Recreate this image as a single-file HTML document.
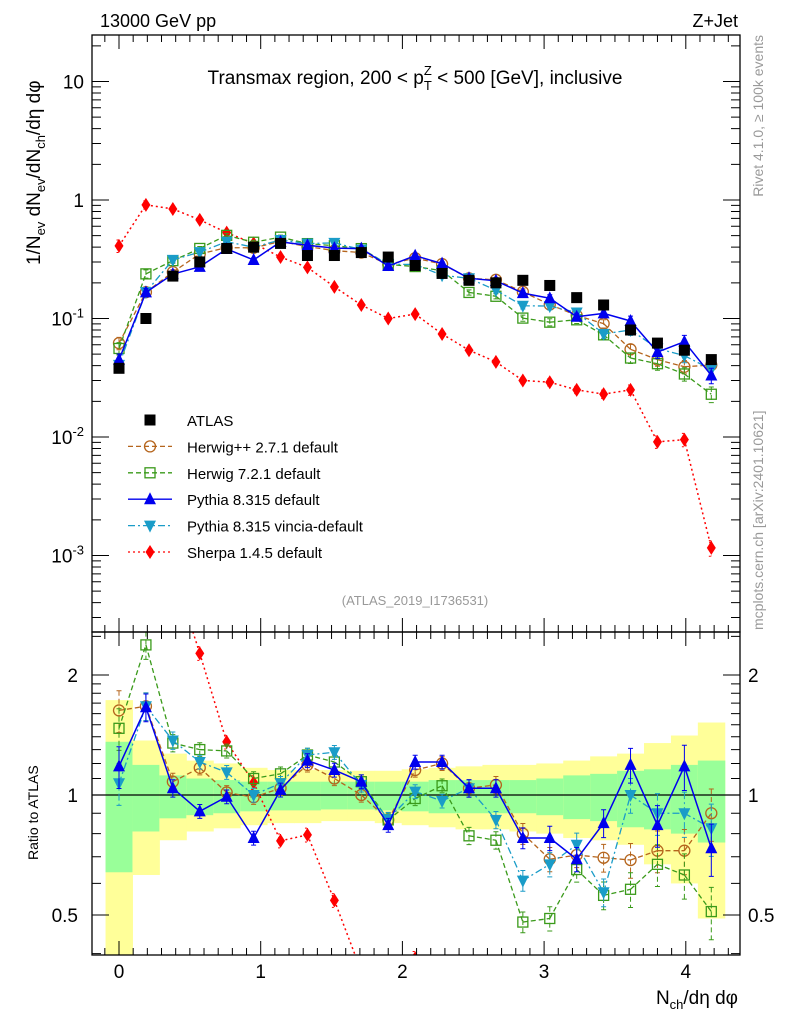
<!DOCTYPE html>
<html><head><meta charset="utf-8"><style>
html,body{margin:0;padding:0;background:#fff;width:786px;height:1024px;overflow:hidden;}
svg{display:block;font-family:"Liberation Sans",sans-serif;}
</style></head><body>
<svg id="chart" width="786" height="1024" viewBox="0 0 786 1024" xmlns="http://www.w3.org/2000/svg">
<defs>
<clipPath id="clipMain"><rect x="92" y="35" width="648" height="597"/></clipPath>
<clipPath id="clipRatio"><rect x="92" y="632" width="648" height="323"/></clipPath>
</defs>
<text x="100" y="27" font-size="18">13000 GeV pp</text>
<text x="738" y="27" font-size="18" text-anchor="end">Z+Jet</text>
<g id="ratioBands" clip-path="url(#clipRatio)"></g>
<g id="mainLayer" clip-path="url(#clipMain)"></g>
<g id="ratioLayer" clip-path="url(#clipRatio)"></g>
<g id="axes"></g>
<text x="415" y="84" font-size="19" text-anchor="middle">Transmax region, 200 &lt; p<tspan font-size="13" dy="6">T</tspan><tspan font-size="13" dx="-8" dy="-15">Z</tspan><tspan dy="9"> &lt; 500 [GeV], inclusive</tspan></text>
<text x="415" y="605" font-size="13" fill="#999" text-anchor="middle">(ATLAS_2019_I1736531)</text>
<text transform="translate(763,35) rotate(-90)" font-size="14" fill="#999" text-anchor="end">Rivet 4.1.0, ≥ 100k events</text>
<text transform="translate(763,630) rotate(-90)" font-size="14" fill="#999">mcplots.cern.ch [arXiv:2401.10621]</text>
<text transform="translate(40,265) rotate(-90)" font-size="19">1/N<tspan font-size="13" dy="5">ev</tspan><tspan dy="-5"> dN</tspan><tspan font-size="13" dy="5">ev</tspan><tspan dy="-5">/dN</tspan><tspan font-size="13" dy="5">ch</tspan><tspan dy="-5">/dη dφ</tspan></text>
<text transform="translate(38,860) rotate(-90)" font-size="14">Ratio to ATLAS</text>
<text x="738" y="1004" font-size="19" text-anchor="end">N<tspan font-size="13" dy="5">ch</tspan><tspan dy="-5">/dη dφ</tspan></text>
<g id="legend"></g>
</svg>
<script>
const xs = [0,0.19,0.38,0.57,0.76,0.95,1.14,1.33,1.52,1.71,1.90,2.09,2.28,2.47,2.66,2.85,3.04,3.23,3.42,3.61,3.80,3.99,4.18];
const atlas = [0.038,0.10,0.228,0.30,0.39,0.40,0.43,0.34,0.34,0.36,0.33,0.28,0.24,0.21,0.20,0.21,0.19,0.15,0.13,0.08,0.062,0.054,0.045];
const herwigppRatio = [1.63,1.67,1.08,1.17,1.015,0.987,1.04,1.19,1.10,1.0,0.866,1.155,1.20,1.04,1.06,0.80,0.69,0.707,0.696,0.687,0.725,0.725,0.90];
const herwig7Ratio = [1.47,2.38,1.35,1.30,1.29,1.10,1.13,1.26,1.21,1.08,0.866,0.98,1.055,0.79,0.77,0.48,0.49,0.65,0.56,0.58,0.67,0.63,0.51];
const pythiaRatio = [1.18,1.66,1.04,0.91,0.99,0.78,1.03,1.22,1.155,1.08,0.84,1.21,1.21,1.04,1.04,0.78,0.78,0.69,0.85,1.19,0.84,1.18,0.735];
const vinciaRatio = [1.07,1.67,1.37,1.21,1.14,1.0,1.07,1.26,1.28,1.06,0.87,1.02,0.966,1.04,0.866,0.61,0.67,0.75,0.57,1.0,0.90,0.90,0.825];
const sherpa = [0.41,0.91,0.84,0.68,0.53,0.43,0.33,0.27,0.185,0.13,0.10,0.109,0.074,0.054,0.043,0.030,0.029,0.025,0.023,0.025,0.0091,0.0095,0.00116];
const relErr = [0.12,0.08,0.05,0.04,0.04,0.04,0.04,0.04,0.04,0.04,0.04,0.04,0.04,0.05,0.05,0.06,0.07,0.07,0.08,0.10,0.12,0.13,0.15];
const yellowHi = [1.73,1.37,1.27,1.22,1.20,1.17,1.155,1.155,1.155,1.15,1.15,1.16,1.17,1.18,1.19,1.19,1.20,1.22,1.25,1.27,1.35,1.41,1.52];
const yellowLo = [0.30,0.63,0.77,0.81,0.825,0.84,0.85,0.85,0.86,0.86,0.85,0.84,0.83,0.82,0.82,0.81,0.80,0.78,0.77,0.75,0.67,0.60,0.49];
const greenHi = [1.36,1.19,1.12,1.10,1.09,1.08,1.08,1.08,1.08,1.08,1.08,1.08,1.09,1.09,1.09,1.09,1.10,1.12,1.13,1.15,1.16,1.19,1.22];
const greenLo = [0.64,0.81,0.874,0.89,0.90,0.91,0.915,0.915,0.92,0.92,0.915,0.91,0.90,0.90,0.90,0.90,0.89,0.87,0.86,0.83,0.82,0.80,0.76];
const xTicks = [0,1,2,3,4];
const mainTickVals = [10,1,0.1,0.01,0.001];
const mainTickLabels = ["10","1","10^-1","10^-2","10^-3"];
const ratioTickVals = [2,1,0.5];
const ratioTickLabels = ["2","1","0.5"];

const NS="http://www.w3.org/2000/svg";
const L=92,R=740,MT=35,MB=632,RT=632,RB=955;
const X=v=>119+v*141.7;
const YMraw=v=>200-Math.log10(v)*118.5;
const YRraw=v=>795-Math.log10(v)*398.6;
const clamp=(y,a,b)=>Math.max(a,Math.min(b,y));
const YM=v=>clamp(YMraw(v),MT-5,MB+5);
const YR=v=>clamp(YRraw(v),RT-5,RB+5);
function mk(tag,attrs,parent){const e=document.createElementNS(NS,tag);for(const k in attrs)e.setAttribute(k,attrs[k]);parent.appendChild(e);return e;}
// build path with segments clipped to y-range [t,b]
function clippedPath(pts,t,b){
  let d='';
  for(let i=0;i<pts.length-1;i++){
    let [x0,y0]=pts[i],[x1,y1]=pts[i+1];
    if((y0<t&&y1<t)||(y0>b&&y1>b))continue;
    const cut=(xa,ya,xb,yb,yl)=>[xa+(xb-xa)*(yl-ya)/(yb-ya),yl];
    if(y0<t)[x0,y0]=cut(x0,y0,x1,y1,t); else if(y0>b)[x0,y0]=cut(x0,y0,x1,y1,b);
    if(y1<t)[x1,y1]=cut(pts[i][0],pts[i][1],x1,y1,t); else if(y1>b)[x1,y1]=cut(pts[i][0],pts[i][1],x1,y1,b);
    d+=`M${x0.toFixed(2)},${y0.toFixed(2)}L${x1.toFixed(2)},${y1.toFixed(2)}`;
  }
  return d||'M0,0';
}
const mainG=document.getElementById('mainLayer'),ratioG=document.getElementById('ratioLayer'),bandG=document.getElementById('ratioBands'),axG=document.getElementById('axes'),legG=document.getElementById('legend');

xs.forEach((x,i)=>{
  const w=141.7*0.19;
  const yt=clamp(YRraw(yellowHi[i]),RT,RB),ybt=clamp(YRraw(yellowLo[i]),RT,RB);
  const yb=mk('rect',{x:X(x)-w/2,y:yt,width:w+0.5,height:ybt-yt,fill:'#ffff99'},bandG);
  
  
  const gt=clamp(YRraw(greenHi[i]),RT,RB),gbt=clamp(YRraw(greenLo[i]),RT,RB);
  const gb=mk('rect',{x:X(x)-w/2,y:gt,width:w+0.5,height:gbt-gt,fill:'#99ff99'},bandG);
  
  
});
const one=mk('line',{x1:L,x2:R,y1:YR(1),y2:YR(1),stroke:'#000','stroke-width':1.2},bandG);



function marker(type,cx,cy,col,g){
  let e;
  if(type==='sq') e=mk('rect',{x:cx-5.5,y:cy-5.5,width:11,height:11,fill:'#000'},g);
  else if(type==='circ') e=mk('circle',{cx:cx,cy:cy,r:5.5,fill:'none',stroke:col,'stroke-width':1.3},g);
  else if(type==='osq') e=mk('rect',{x:cx-5,y:cy-5,width:10,height:10,fill:'none',stroke:col,'stroke-width':1.3},g);
  else if(type==='up') e=mk('polygon',{points:`${cx},${cy-7} ${cx-6},${cy+5} ${cx+6},${cy+5}`,fill:col},g);
  else if(type==='dn') e=mk('polygon',{points:`${cx},${cy+7} ${cx-6},${cy-5} ${cx+6},${cy-5}`,fill:col},g);
  else if(type==='dia') e=mk('polygon',{points:`${cx},${cy-7} ${cx-4.5},${cy} ${cx},${cy+7} ${cx+4.5},${cy}`,fill:col},g);
  return e;
}
function series(name,vals,ratios,col,dash,type,width){
  const gm=mk('g',{},mainG);
  
  
  const gr=mk('g',{},ratioG);
  
  
  const pm=xs.map((x,i)=>[X(x),YMraw(vals[i])]);
  const pr=xs.map((x,i)=>[X(x),YRraw(ratios[i])]);
  const l1=mk('path',{d:clippedPath(pm,MT-5,MB+5),fill:'none',stroke:col,'stroke-width':width,'stroke-dasharray':dash||'none'},gm);
  
  
  const l2=mk('path',{d:clippedPath(pr,RT-5,RB+5),fill:'none',stroke:col,'stroke-width':width,'stroke-dasharray':dash||'none'},gr);
  
  
  xs.forEach((x,i)=>{
    const e=relErr[i];
    const cx=X(x);
    [[gm,YM,YMraw,vals[i],MT,MB],[gr,YR,YRraw,ratios[i],RT,RB]].forEach(([g,Y,Yraw,v,t,b])=>{
      const y0=Y(v*(1+e)),y1=Y(Math.max(v*(1-e),1e-6));
      if(y1-y0>0.5){
        const eb=mk('path',{d:`M${cx},${y0}V${y1}M${cx-2.5},${y0}h5M${cx-2.5},${y1}h5`,stroke:col,'stroke-width':1,fill:'none','stroke-dasharray':dash||'none'},g);
        
        
      }
      const yc=Yraw(v);
      if(yc>t-4&&yc<b+4){
        const m=marker(type,cx,yc,col,g);
        
        
      }
    });
  });
}
const mul=r=>r.map((v,i)=>v*atlas[i]);
series('sherpa',sherpa,sherpa.map((v,i)=>v/atlas[i]),'#ff0000','2,3','dia',1.5);
series('herwigpp',mul(herwigppRatio),herwigppRatio,'#b5651d','5,3','circ',1.3);
series('herwig7',mul(herwig7Ratio),herwig7Ratio,'#3a9a1a','5,3','osq',1.3);
series('vincia',mul(vinciaRatio),vinciaRatio,'#1a9cc8','7,3,2,3','dn',1.3);
series('pythia',mul(pythiaRatio),pythiaRatio,'#0000ee',null,'up',1.5);
xs.forEach((x,i)=>{
  const m=marker('sq',X(x),YMraw(atlas[i]),'#000',mainG);
  
  
});

[[MT,MB],[RT,RB]].forEach(([t,b],k)=>{
  const f=mk('rect',{x:L,y:t,width:R-L,height:b-t,fill:'none',stroke:'#000','stroke-width':1.3},axG);
  
  
  for(let v=-0.1;v<=4.35;v+=0.1){
    const vv=Math.round(v*10)/10;const major=Math.abs(vv-Math.round(vv))<1e-6;const len=major?14:7;
    const tk=mk('path',{d:`M${X(vv)},${b}v${-len}M${X(vv)},${t}v${len}`,stroke:'#000','stroke-width':1},axG);
    
    
  }
});
xTicks.forEach(v=>{
  const t=mk('text',{x:X(v),y:978,'font-size':19,'text-anchor':'middle'},axG);t.textContent=v;
  
  
});
for(let d=-4;d<=1;d++){
  for(let m=1;m<10;m++){
    const v=m*Math.pow(10,d);const y=YMraw(v);if(y<MT||y>MB)continue;
    const len=m===1?17:9;
    const tk=mk('path',{d:`M${L},${y}h${len}M${R},${y}h${-len}`,stroke:'#000','stroke-width':1},axG);
    
    
  }
}
mainTickVals.forEach((v,i)=>{
  const lab=mainTickLabels[i];const t=mk('text',{x:84,y:YMraw(v)+7,'font-size':19,'text-anchor':'end'},axG);
  if(lab.indexOf('^')>0){const p=lab.split('^');t.textContent=p[0];const s=mk('tspan',{'font-size':13,dy:-8},t);s.textContent=p[1];}
  else t.textContent=lab;
  
  
});
[0.4,0.5,0.6,0.7,0.8,0.9,1,1.1,1.2,1.3,1.4,1.5,1.6,1.7,1.8,1.9,2,2.5].forEach(v=>{
  const y=YRraw(v);if(y<RT||y>RB)return;const len=(v===1||v===2||v===0.5)?17:9;
  const tk=mk('path',{d:`M${L},${y}h${len}M${R},${y}h${-len}`,stroke:'#000','stroke-width':1},axG);
  
  
});
ratioTickVals.forEach((v,i)=>{
  const t=mk('text',{x:78,y:YRraw(v)+7,'font-size':19,'text-anchor':'end'},axG);t.textContent=ratioTickLabels[i];
  
  
  const t2=mk('text',{x:748,y:YRraw(v)+7,'font-size':19},axG);t2.textContent=ratioTickLabels[i];
  
  
});
const legItems=[['ATLAS','sq','#000',null],['Herwig++ 2.7.1 default','circ','#b5651d','5,3'],['Herwig 7.2.1 default','osq','#3a9a1a','5,3'],['Pythia 8.315 default','up','#0000ee',''],['Pythia 8.315 vincia-default','dn','#1a9cc8','7,3,2,3'],['Sherpa 1.4.5 default','dia','#ff0000','2,3']];
legItems.forEach((it,i)=>{
  const y=420+i*26.4;
  const g=mk('g',{},legG);
  
  
  if(it[3]!==null){mk('line',{x1:128,x2:172,y1:y,y2:y,stroke:it[2],'stroke-width':1.3,'stroke-dasharray':it[3]||'none'},g);}
  marker(it[1],150,y,it[2],g);
  const t=mk('text',{x:187,y:y+6,'font-size':15},g);t.textContent=it[0];
});
</script>
</body></html>
